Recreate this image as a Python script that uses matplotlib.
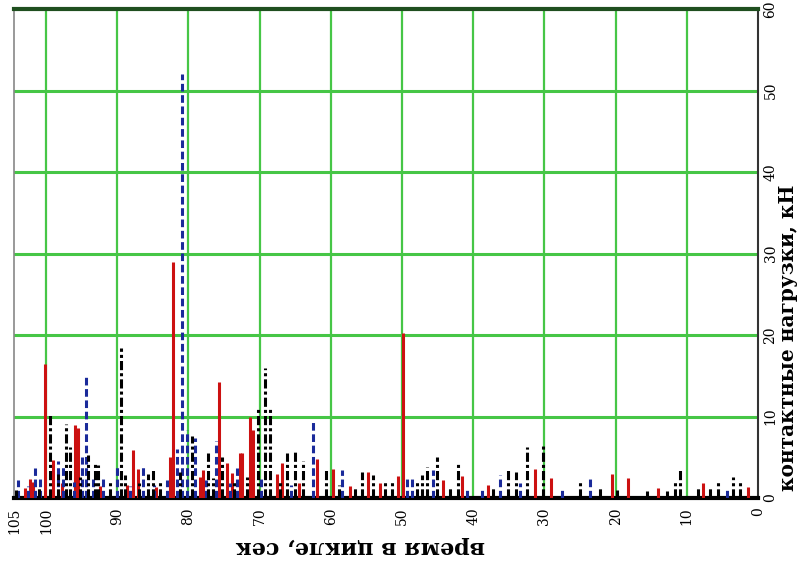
import matplotlib
matplotlib.use("Agg")
import matplotlib.pyplot as plt

# time (s) and contact load (kN) of spikes
red_t = [103.0, 102.2, 101.8, 100.1, 99.0, 97.8, 95.9, 95.5, 92.4, 88.6, 87.8, 87.1,
         84.6, 82.6, 82.2, 78.4, 77.9, 75.7, 74.6, 73.9, 72.8, 72.5, 71.3, 70.9,
         67.6, 66.9, 64.4, 61.9, 59.7, 57.3, 54.8, 53.1, 50.6, 49.9, 44.2, 41.6,
         37.9, 31.3, 29.1, 20.5, 18.3, 14.0, 7.7, 1.4]
red_v = [1.2, 2.3, 2.0, 16.5, 4.7, 1.8, 8.9, 8.6, 1.5, 1.6, 5.9, 3.6,
         1.4, 5.0, 29.0, 2.6, 3.4, 14.2, 4.3, 3.1, 5.5, 5.5, 10.0, 8.4,
         3.0, 4.3, 1.8, 4.8, 3.6, 1.5, 3.2, 1.8, 2.7, 20.2, 2.2, 2.7,
         1.6, 3.6, 2.5, 3.0, 2.5, 1.2, 1.8, 1.4]

blue_t = [103.9, 102.6, 101.5, 100.8, 98.3, 97.6, 96.1, 94.9, 94.4, 93.4, 92.0, 90.0,
          88.2, 86.4, 84.8, 83.0, 81.6, 80.9, 80.2, 79.1, 77.6, 76.1, 74.2, 73.2,
          69.8, 65.6, 62.5, 58.4, 49.3, 48.6, 45.6, 40.9, 38.8, 36.2, 33.4, 27.5,
          23.6, 4.4]
blue_v = [2.2, 1.5, 3.7, 2.5, 4.5, 3.8, 2.0, 5.0, 15.1, 2.6, 2.7, 3.8,
          1.5, 3.8, 1.6, 2.2, 6.0, 52.0, 8.3, 7.4, 2.2, 7.0, 1.8, 3.7,
          2.4, 1.6, 9.4, 3.4, 2.7, 2.7, 3.4, 1.4, 1.4, 2.8, 1.8, 1.2,
          2.5, 1.2]

black_t = [104.2, 101.0, 99.4, 98.3, 97.2, 96.6, 95.2, 94.1, 93.1, 92.7, 91.0, 89.5,
           88.9, 86.9, 85.7, 85.0, 84.0, 81.2, 79.5, 77.2, 76.6, 75.3, 73.6, 71.8,
           70.2, 69.2, 68.5, 67.2, 66.2, 65.0, 63.9, 60.7, 58.9, 56.6, 55.6, 54.1,
           52.4, 51.4, 47.9, 47.2, 46.5, 45.1, 43.3, 42.1, 37.2, 35.1, 34.0, 32.4,
           30.2, 25.0, 22.2, 19.8, 15.6, 12.8, 11.7, 11.0, 8.4, 6.7, 5.6, 3.5, 2.5]
black_v = [1.0, 1.4, 10.4, 3.0, 9.1, 6.3, 2.6, 5.3, 4.4, 4.0, 2.2, 18.4,
           2.8, 1.8, 3.0, 3.4, 2.2, 3.2, 7.6, 5.5, 2.4, 5.0, 2.0, 2.6,
           11.0, 16.0, 11.2, 2.0, 5.5, 5.7, 4.6, 3.6, 1.6, 1.4, 3.2, 2.8,
           2.2, 2.2, 2.2, 2.8, 3.8, 5.0, 1.4, 4.4, 1.4, 3.6, 3.2, 6.2,
           6.7, 2.0, 1.2, 1.0, 0.8, 0.8, 2.2, 3.4, 1.4, 1.2, 2.0, 2.6, 2.2]

x_ticks = [0, 10, 20, 30, 40, 50, 60, 70, 80, 90, 100, 105]
y_ticks = [0, 10, 20, 30, 40, 50, 60]

fig = plt.figure(figsize=(7.98, 5.65), dpi=100)
ax = fig.add_axes([14/798, 1-498/565, (758-14)/798, (498-9)/565])

ax.set_xlim(104.5, 0)
ax.set_ylim(0, 60)

grid_c = "#46c646"
for x in range(10, 101, 10):
    ax.axvline(x, color=grid_c, lw=1.6, zorder=1)
for y in range(10, 60, 10):
    ax.axhline(y, color=grid_c, lw=2.2, zorder=1)

ax.vlines(red_t, 0, red_v, colors="#cc1111", lw=2.2, zorder=3)
ax.vlines(blue_t, 0, blue_v, colors="#1a2a9a", lw=2.2, linestyles=(0, (2.5, 1.2)), zorder=4)
ax.vlines(black_t, 0, black_v, colors="#000000", lw=2.2, linestyles=(0, (3, 1, 1, 1)), zorder=4)

ax.spines["top"].set_color("#1f4f1f")
ax.spines["top"].set_linewidth(3)
ax.spines["left"].set_color("#888888")
ax.spines["left"].set_linewidth(1.2)
ax.spines["right"].set_color("#333333")
ax.spines["right"].set_linewidth(1.5)
ax.spines["bottom"].set_color("#000000")
ax.spines["bottom"].set_linewidth(3)

ax.set_xticks([t for t in x_ticks if t <= 104.5] + [104.5])
ax.set_xticklabels([str(t) for t in x_ticks if t <= 104.5] + ["105"])
ax.set_yticks(y_ticks)
ax.set_yticklabels([str(v) for v in y_ticks])
ax.yaxis.tick_right()
ax.tick_params(axis="both", length=0, labelsize=10)
ax.tick_params(axis="x", pad=7, labelrotation=90)
ax.tick_params(axis="y", pad=4, labelrotation=90)
for lab in ax.get_xticklabels() + ax.get_yticklabels():
    lab.set_family("DejaVu Serif")
for lab in ax.get_yticklabels():
    lab.set_va("center")

fig.text(360/798, 1-547/565, "время в цикле, сек", rotation=180, ha="center", va="center",
         family="DejaVu Serif", weight="bold", fontsize=16)
fig.text(788/798, 1-338/565, "контактные нагрузки, кН", rotation=90, ha="center", va="center",
         family="DejaVu Serif", weight="bold", fontsize=14.5)

fig.savefig("out.png", dpi=100)
